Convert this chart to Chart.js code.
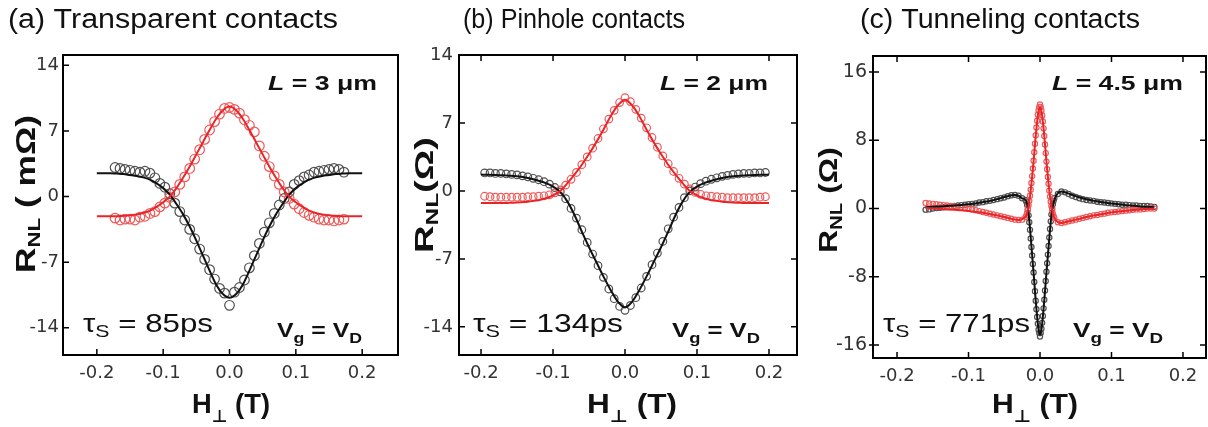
<!DOCTYPE html>
<html>
<head>
<meta charset="utf-8">
<script src="https://cdn.jsdelivr.net/npm/chart.js@4.4.1/dist/chart.umd.min.js"></script>
<style>
  body { margin: 0; background: #fff; width: 1208px; height: 427px; overflow: hidden; position: relative; }
  canvas { position: absolute; top: 0; }
</style>
</head>
<body>
<canvas id="pa"></canvas>
<canvas id="pb"></canvas>
<canvas id="pc"></canvas>
<script>
// fit curves of (a) and (b) share the same field grid
const fitX = [-0.2, -0.19, -0.18, -0.17, -0.16, -0.15, -0.14, -0.13, -0.12, -0.11, -0.1, -0.09, -0.08, -0.07, -0.06, -0.05, -0.04, -0.03, -0.02, -0.01, 0,
  0.01, 0.02, 0.03, 0.04, 0.05, 0.06, 0.07, 0.08, 0.09, 0.1, 0.11, 0.12, 0.13, 0.14, 0.15, 0.16, 0.17, 0.18, 0.19, 0.2];
const xTicks = [-0.2, -0.1, 0, 0.1, 0.2];

// (a) transparent contacts
const aFitBlack = [2.5, 2.5, 2.5, 2.45, 2.4, 2.3, 2.2, 2.05, 1.8, 1.4, 0.9, 0.2, -0.8, -1.9, -3.2, -4.7, -6.3, -7.9, -9.4, -10.4, -10.8,
  -10.4, -9.4, -7.9, -6.3, -4.7, -3.2, -1.9, -0.8, 0.2, 0.9, 1.4, 1.8, 2.05, 2.2, 2.3, 2.4, 2.45, 2.5, 2.5, 2.5];
const aFitRed = [-2.1, -2.1, -2.1, -2.1, -2.05, -2.0, -1.9, -1.75, -1.5, -1.1, -0.6, 0.0, 0.9, 2.0, 3.2, 4.5, 5.8, 7.1, 8.3, 9.2, 9.6,
  9.2, 8.3, 7.1, 5.8, 4.5, 3.2, 2.0, 0.9, 0.0, -0.6, -1.1, -1.5, -1.75, -1.9, -2.0, -2.05, -2.1, -2.1, -2.1, -2.1];
const aDataX = [-0.1725, -0.165, -0.1575, -0.15, -0.1425, -0.135, -0.1275, -0.12, -0.1125, -0.105, -0.0975, -0.09, -0.0825, -0.075, -0.0675, -0.06,
  -0.0525, -0.045, -0.0375, -0.03, -0.0225, -0.015, -0.0075, 0, 0.0075, 0.015, 0.0225, 0.03, 0.0375, 0.045, 0.0525, 0.06, 0.0675, 0.075,
  0.0825, 0.09, 0.0975, 0.105, 0.1125, 0.12, 0.1275, 0.135, 0.1425, 0.15, 0.1575, 0.165, 0.1725];
const aDataBlack = [3.1, 3.0, 2.9, 2.8, 2.7, 2.6, 2.7, 2.5, 2.0, 1.4, 1.0, 0.3, -0.7, -1.6, -2.5, -3.5, -4.5, -5.6, -6.7, -7.8, -8.8, -9.8, -10.3,
  -11.6, -10.2, -9.7, -8.9, -7.6, -6.3, -5.0, -3.8, -2.8, -1.8, -0.9, -0.2, 0.5, 1.3, 1.7, 2.1, 2.3, 2.6, 2.7, 2.8, 2.9, 3.0, 2.9, 2.6];
const aDataRed = [-2.3, -2.5, -2.4, -2.4, -2.5, -2.2, -2.1, -1.8, -1.6, -1.1, -0.7, -0.1, 0.5, 1.3, 2.1, 3.0, 4.0, 5.0, 6.1, 7.1, 8.0, 8.8, 9.4,
  9.5, 9.3, 8.9, 8.2, 7.6, 6.9, 5.4, 4.3, 3.2, 2.2, 1.3, 0.5, -0.2, -0.8, -1.3, -1.7, -2.0, -2.2, -2.4, -2.5, -2.5, -2.6, -2.5, -2.4];
const aYTicks = [-14, -7, 0, 7, 14];

// (b) pinhole contacts
const bFitBlack = [1.68, 1.67, 1.65, 1.62, 1.57, 1.5, 1.4, 1.25, 1.05, 0.8, 0.45, -0.1, -1.1, -2.5, -4.2, -5.8, -7.3, -8.8, -10.2, -11.4, -12.0,
  -11.4, -10.2, -8.8, -7.3, -5.8, -4.2, -2.5, -1.1, -0.1, 0.45, 0.8, 1.05, 1.25, 1.4, 1.5, 1.57, 1.62, 1.65, 1.67, 1.68];
const bFitRed = [-1.25, -1.25, -1.25, -1.25, -1.22, -1.2, -1.15, -1.05, -0.95, -0.75, -0.45, 0.0, 0.8, 1.7, 2.7, 3.8, 5.0, 6.3, 7.7, 8.8, 9.4,
  8.8, 7.7, 6.3, 5.0, 3.8, 2.7, 1.7, 0.8, 0.0, -0.45, -0.75, -0.95, -1.05, -1.15, -1.2, -1.22, -1.25, -1.25, -1.25, -1.25];
const bDataX = [-0.195, -0.1875, -0.18, -0.1725, -0.165, -0.1575, -0.15, -0.1425, -0.135, -0.1275, -0.12, -0.1125, -0.105, -0.0975, -0.09,
  -0.0825, -0.075, -0.0675, -0.06, -0.0525, -0.045, -0.0375, -0.03, -0.0225, -0.015, -0.0075, 0, 0.0075, 0.015, 0.0225, 0.03, 0.0375, 0.045,
  0.0525, 0.06, 0.0675, 0.075, 0.0825, 0.09, 0.0975, 0.105, 0.1125, 0.12, 0.1275, 0.135, 0.1425, 0.15, 0.1575, 0.165, 0.1725, 0.18, 0.1875, 0.195];
const bDataBlack = [1.85, 1.85, 1.8, 1.8, 1.75, 1.7, 1.65, 1.55, 1.45, 1.3, 1.15, 0.95, 0.7, 0.35, -0.1, -0.8, -1.8, -2.8, -4.0, -5.3, -6.5, -7.7,
  -8.9, -10.1, -11.1, -11.9, -12.3, -11.8, -11.0, -10.0, -8.8, -7.6, -6.4, -5.2, -3.9, -2.7, -1.7, -0.7, 0.0, 0.4, 0.75, 1.0, 1.2, 1.35, 1.5,
  1.6, 1.7, 1.75, 1.8, 1.8, 1.85, 1.85, 1.9];
const bDataRed = [-0.55, -0.6, -0.65, -0.65, -0.65, -0.65, -0.65, -0.65, -0.6, -0.6, -0.55, -0.5, -0.4, -0.2, 0.1, 0.6, 1.2, 1.9, 2.7, 3.5, 4.4,
  5.4, 6.4, 7.4, 8.3, 9.1, 9.6, 9.2, 8.4, 7.5, 6.5, 5.5, 4.5, 3.6, 2.8, 2.0, 1.3, 0.7, 0.2, -0.15, -0.35, -0.5, -0.55, -0.6, -0.65, -0.7, -0.7,
  -0.7, -0.7, -0.7, -0.7, -0.65, -0.6];

// (c) tunneling contacts
const cFitX = [-0.16, -0.15, -0.14, -0.13, -0.12, -0.11, -0.1, -0.09, -0.08, -0.07, -0.06, -0.05, -0.04, -0.035, -0.03, -0.025, -0.02, -0.018,
  -0.016, -0.014, -0.012, -0.01, -0.008, -0.006, -0.004, -0.002, 0, 0.002, 0.004, 0.006, 0.008, 0.01, 0.012, 0.014, 0.016, 0.018, 0.02, 0.025,
  0.03, 0.035, 0.04, 0.05, 0.06, 0.07, 0.08, 0.09, 0.1, 0.11, 0.12, 0.13, 0.14, 0.15, 0.16];
const cFitBlack = [0.15, 0.2, 0.25, 0.3, 0.35, 0.42, 0.5, 0.6, 0.75, 0.9, 1.1, 1.35, 1.55, 1.6, 1.5, 1.2, 1.0, 0.5, -0.6, -2.3, -4.4, -6.5, -8.6,
  -10.8, -12.7, -14.2, -14.8, -14.2, -12.7, -10.8, -8.6, -6.5, -4.5, -2.5, -0.8, 0.3, 1.0, 1.8, 2.0, 1.9, 1.75, 1.45, 1.2, 1.0, 0.85, 0.7, 0.6,
  0.5, 0.4, 0.32, 0.25, 0.2, 0.15];
const cFitRed = [0.05, 0.0, -0.05, -0.1, -0.15, -0.2, -0.3, -0.4, -0.5, -0.65, -0.8, -1.0, -1.2, -1.3, -1.35, -1.25, -0.9, -0.5, 0.3, 1.4, 2.9,
  4.6, 6.5, 8.5, 10.2, 11.4, 11.9, 11.4, 10.2, 8.5, 6.5, 4.6, 2.9, 1.4, 0.3, -0.6, -1.1, -1.6, -1.7, -1.6, -1.5, -1.3, -1.1, -0.9, -0.75, -0.6,
  -0.45, -0.35, -0.25, -0.17, -0.1, -0.05, 0.0];
const cDataX = [-0.16, -0.155, -0.15, -0.145, -0.14, -0.135, -0.13, -0.125, -0.12, -0.115, -0.11, -0.105, -0.1, -0.095, -0.09, -0.085, -0.08,
  -0.075, -0.07, -0.065, -0.06, -0.055, -0.05, -0.045, -0.04, -0.035, -0.03, -0.025,
  -0.02, -0.019, -0.018, -0.017, -0.016, -0.015, -0.014, -0.013, -0.012, -0.011, -0.01, -0.009, -0.008, -0.007, -0.006, -0.005, -0.004, -0.003,
  -0.002, -0.001, 0, 0.001, 0.002, 0.003, 0.004, 0.005, 0.006, 0.007, 0.008, 0.009, 0.01, 0.011, 0.012, 0.013, 0.014, 0.015, 0.016, 0.017,
  0.018, 0.019, 0.02,
  0.025, 0.03, 0.035, 0.04, 0.045, 0.05, 0.055, 0.06, 0.065, 0.07, 0.075, 0.08, 0.085, 0.09, 0.095, 0.1, 0.105, 0.11, 0.115, 0.12, 0.125,
  0.13, 0.135, 0.14, 0.145, 0.15, 0.155, 0.16];
const cDataBlack = [-0.15, -0.1, 0.0, 0.05, 0.1, 0.15, 0.2, 0.25, 0.3, 0.35, 0.4, 0.45, 0.5, 0.55, 0.6, 0.7, 0.75, 0.85, 0.9, 1.0, 1.1, 1.2,
  1.3, 1.45, 1.55, 1.6, 1.5, 1.2,
  1.0, 0.8, 0.4, -0.1, -0.8, -1.6, -2.5, -3.5, -4.5, -5.5, -6.5, -7.5, -8.6, -9.7, -10.8, -11.8, -12.7, -13.5, -14.2, -14.6, -15.0, -14.6,
  -14.1, -13.4, -12.6, -11.7, -10.7, -9.6, -8.5, -7.4, -6.4, -5.4, -4.4, -3.4, -2.4, -1.5, -0.7, 0.0, 0.5, 0.9, 1.2,
  1.7, 2.0, 1.9, 1.7, 1.5, 1.35, 1.2, 1.1, 1.0, 0.95, 0.9, 0.8, 0.75, 0.7, 0.65, 0.6, 0.55, 0.5, 0.45, 0.45, 0.4, 0.35, 0.35, 0.3, 0.3, 0.3,
  0.25, 0.2];
const cDataRed = [0.65, 0.6, 0.55, 0.5, 0.45, 0.4, 0.35, 0.3, 0.25, 0.2, 0.1, 0.05, 0.0, -0.1, -0.2, -0.3, -0.4, -0.5, -0.6, -0.7, -0.8, -0.9,
  -1.0, -1.1, -1.2, -1.3, -1.35, -1.3,
  -1.0, -0.8, -0.5, -0.1, 0.4, 0.9, 1.5, 2.2, 3.0, 3.8, 4.7, 5.6, 6.6, 7.6, 8.6, 9.5, 10.3, 11.0, 11.5, 11.9, 12.2, 11.9, 11.5, 10.9, 10.2,
  9.4, 8.5, 7.5, 6.5, 5.5, 4.6, 3.7, 2.9, 2.1, 1.4, 0.8, 0.3, -0.2, -0.6, -0.9, -1.1,
  -1.6, -1.7, -1.6, -1.5, -1.4, -1.3, -1.2, -1.1, -1.0, -0.9, -0.8, -0.75, -0.65, -0.6, -0.5, -0.45, -0.4, -0.35, -0.3, -0.25, -0.2, -0.15,
  -0.1, -0.1, -0.05, 0.0, 0.0, 0.0];
const cYTicks = [-16, -8, 0, 8, 16];

const SANS = '"Liberation Sans", Arial, sans-serif';
const H = 427;

// draws a run of text pieces [text, font, dy], stretched to a given width
function rich(ctx, parts, x, y, o) {
  ctx.save();
  let w = 0;
  parts.forEach(p => { ctx.font = p[1]; w += ctx.measureText(p[0]).width; });
  const sx = o.width ? o.width / w : 1;
  ctx.translate(x, y);
  if (o.rotate) ctx.rotate(o.rotate);
  ctx.scale(sx, 1);
  let cx = o.align === 'center' ? -w / 2 : o.align === 'right' ? -w : 0;
  ctx.fillStyle = '#111';
  ctx.textAlign = 'left';
  ctx.textBaseline = 'alphabetic';
  parts.forEach(p => {
    ctx.font = p[1];
    ctx.fillText(p[0], cx, p[2] || 0);
    cx += ctx.measureText(p[0]).width;
  });
  ctx.restore();
}

function framePlugin(P) {
  return {
    id: 'frame',
    afterDraw(chart) {
      const ctx = chart.ctx;
      const { left, top, right, bottom } = chart.chartArea;
      const xs = chart.scales.x, ys = chart.scales.y;
      ctx.save();
      ctx.strokeStyle = '#000';
      ctx.lineWidth = 1.5;
      ctx.beginPath();
      P.xTicks.forEach(v => {
        const px = xs.getPixelForValue(v);
        ctx.moveTo(px, bottom); ctx.lineTo(px, bottom - 6);
        if (P.topTicks) { ctx.moveTo(px, top); ctx.lineTo(px, top + 6); }
      });
      P.yTicks.forEach(v => {
        const py = ys.getPixelForValue(v);
        ctx.moveTo(left - P.outTick, py); ctx.lineTo(left + 6, py);
        if (P.rightTicks) { ctx.moveTo(right, py); ctx.lineTo(right - 6, py); }
      });
      ctx.stroke();
      ctx.lineWidth = 2;
      ctx.strokeRect(left, top, right - left, bottom - top);
      ctx.restore();

      const L = P.L;
      const t = P.text;
      rich(ctx, [[t.title, '27px ' + SANS]], t.titleX - L, 28, { width: t.titleW });
      rich(ctx, [['R', 'bold ' + t.ySize + 'px ' + SANS], ['NL', 'bold ' + Math.round(t.ySize * 0.62) + 'px ' + SANS, 5],
        [t.yUnit, 'bold ' + t.ySize + 'px ' + SANS]],
        t.yBase - L, t.yMid, { rotate: -Math.PI / 2, align: 'center', width: t.yLen });
      rich(ctx, [['H', 'bold 27px ' + SANS], ['\u22A5', 'bold 17px "DejaVu Sans"', 9], [' (T)', 'bold 27px ' + SANS]],
        t.xLeft - L, 413, { width: t.xW });
      rich(ctx, [['L', 'italic bold 21px ' + SANS], [' = ' + t.len + ' \u03BCm', 'bold 21px ' + SANS]],
        t.lRight - L, 90, { align: 'right', width: t.lW });
      rich(ctx, [['V', 'bold 21px ' + SANS], ['g', 'bold 15px ' + SANS, 6], [' = V', 'bold 21px ' + SANS], ['D', 'bold 15px ' + SANS, 6]],
        t.vRight - L, 337, { align: 'right', width: t.vW });
      rich(ctx, [['\u03C4', '25px ' + SANS], ['S', '17px ' + SANS, 5], [' = ' + t.tau, '25px ' + SANS]],
        t.tauLeft - L, 332, { width: t.tauW });
    }
  };
}

function panel(id, P) {
  const cv = document.getElementById(id);
  cv.width = P.W; cv.height = H;
  cv.style.left = P.L + 'px';
  cv.style.width = P.W + 'px';
  cv.style.height = H + 'px';
  const xy = (xs, ys) => xs.map((x, i) => ({ x: x, y: ys[i] }));
  const fit = (data, color) => ({ data: data, showLine: true, borderColor: color, borderWidth: 2, pointRadius: 0,
    cubicInterpolationMode: 'monotone', fill: false });
  const pts = (data, color) => ({ data: data, showLine: false, pointRadius: P.r, pointBorderColor: color, pointBorderWidth: 1.2,
    pointBackgroundColor: 'rgba(255,255,255,0)' });
  new Chart(cv, {
    type: 'scatter',
    data: {
      datasets: [
        fit(xy(P.fitX, P.fitRed), '#e8262a'),
        fit(xy(P.fitX, P.fitBlack), '#111'),
        pts(xy(P.dataX, P.dataRed), '#ef5a5a'),
        pts(xy(P.dataX, P.dataBlack), '#505050')
      ]
    },
    options: {
      responsive: false,
      animation: false,
      devicePixelRatio: 1,
      layout: { autoPadding: false, padding: { left: 0, top: P.area.t, right: P.L + P.W - P.area.r, bottom: 0 } },
      plugins: { legend: { display: false }, tooltip: { enabled: false } },
      scales: {
        x: {
          type: 'linear', position: 'bottom', min: P.xMin, max: P.xMax,
          afterFit: s => { s.height = H - P.area.b; },
          afterBuildTicks: s => { s.ticks = P.xTicks.map(v => ({ value: v })); },
          grid: { display: false, drawTicks: false },
          border: { display: false },
          ticks: { autoSkip: false, maxRotation: 0, padding: 8, color: '#333',
            font: { family: 'DejaVu Sans', size: 18 }, callback: v => v.toFixed(1) }
        },
        y: {
          type: 'linear', position: 'left', min: P.yMin, max: P.yMax,
          afterFit: s => { s.width = P.area.l - P.L; },
          afterBuildTicks: s => { s.ticks = P.yTicks.map(v => ({ value: v })); },
          grid: { display: false, drawTicks: false },
          border: { display: false },
          ticks: { autoSkip: false, padding: P.yPad, color: '#333',
            font: { family: 'DejaVu Sans', size: P.yFont }, callback: v => String(v) }
        }
      }
    },
    plugins: [framePlugin(P)]
  });
}

panel('pa', {
  L: 0, W: 410, area: { l: 63, r: 398, t: 55, b: 355 },
  xMin: -0.251, xMax: 0.254, yMin: -16.9, yMax: 15.1,
  xTicks: xTicks, yTicks: aYTicks, yPad: 4, yFont: 18, outTick: 0, topTicks: false, rightTicks: false, r: 4.8,
  fitX: fitX, fitBlack: aFitBlack, fitRed: aFitRed, dataX: aDataX, dataBlack: aDataBlack, dataRed: aDataRed,
  text: { title: '(a) Transparent contacts', titleX: 8, titleW: 330, ySize: 27, yUnit: ' ( m\u03A9)', yBase: 35, yMid: 194, yLen: 158,
    xLeft: 192, xW: 78, len: '3', lRight: 377, lW: 109, vRight: 362, vW: 85, tau: '85ps', tauLeft: 83, tauW: 130 }
});

panel('pb', {
  L: 400, W: 408, area: { l: 459, r: 797, t: 55, b: 355 },
  xMin: -0.2306, xMax: 0.2389, yMin: -16.9, yMax: 14,
  xTicks: xTicks, yTicks: aYTicks, yPad: 6, yFont: 18, outTick: 0, topTicks: true, rightTicks: true, r: 3.8,
  fitX: fitX, fitBlack: bFitBlack, fitRed: bFitRed, dataX: bDataX, dataBlack: bDataBlack, dataRed: bDataRed,
  text: { title: '(b) Pinhole contacts', titleX: 463, titleW: 222, ySize: 25, yUnit: '(\u03A9)', yBase: 433, yMid: 195, yLen: 116,
    xLeft: 587, xW: 90, len: '2', lRight: 768, lW: 108, vRight: 760, vW: 88, tau: '134ps', tauLeft: 473, tauW: 150 }
});

panel('pc', {
  L: 800, W: 408, area: { l: 873, r: 1206, t: 56, b: 358 },
  xMin: -0.2336, xMax: 0.2322, yMin: -17.52, yMax: 17.88,
  xTicks: xTicks, yTicks: cYTicks, yPad: 6, yFont: 19, outTick: 4, topTicks: true, rightTicks: true, r: 2.6,
  fitX: cFitX, fitBlack: cFitBlack, fitRed: cFitRed, dataX: cDataX, dataBlack: cDataBlack, dataRed: cDataRed,
  text: { title: '(c) Tunneling contacts', titleX: 860, titleW: 280, ySize: 25, yUnit: ' (\u03A9)', yBase: 837, yMid: 200, yLen: 106,
    xLeft: 992, xW: 86, len: '4.5', lRight: 1183, lW: 131, vRight: 1163, vW: 90, tau: '771ps', tauLeft: 883, tauW: 147 }
});
</script>
</body>
</html>
